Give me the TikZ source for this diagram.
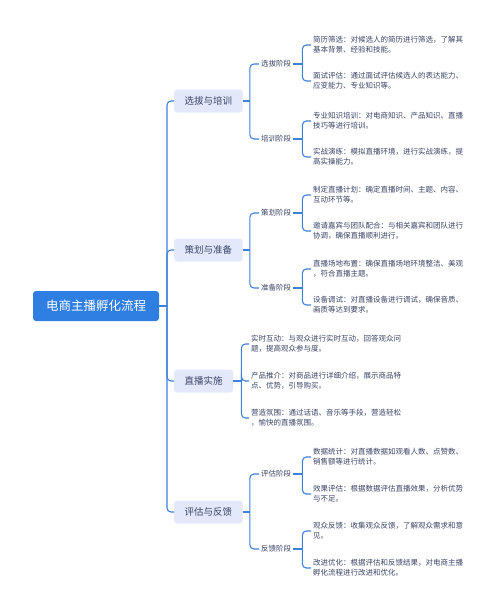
\documentclass[tikz,border=0pt]{standalone}
\usepackage{fontspec}
\setmainfont{Noto Sans CJK SC}
\definecolor{rootblue}{HTML}{2F7FE3}
\definecolor{topicfill}{HTML}{E3E9FB}
\definecolor{linkblue}{HTML}{3F80DA}
\definecolor{textdark}{HTML}{3A4466}

\begin{document}
\begin{tikzpicture}[x=1pt, y=-1pt,
	root/.style={fill=rootblue, text=white, rounded corners=3pt, font=\fontsize{12.5}{14}\selectfont, minimum height=30pt, inner xsep=13pt},
	topic/.style={fill=topicfill, text=textdark, rounded corners=3pt, font=\fontsize{9.5}{11}\selectfont, minimum height=23pt, inner xsep=10.5pt, anchor=west},
	stage/.style={text=textdark, font=\fontsize{7.5}{9}\selectfont, inner sep=2pt, anchor=west},
	leaf/.style={text=textdark, font=\fontsize{7.5}{10}\selectfont, align=left, inner sep=2pt, anchor=west},
	link/.style={draw=linkblue, line width=1.1pt, rounded corners=4pt}]
				\useasboundingbox (0,0) rectangle (500,613);
				
				% Root and main topics
				\node[root] (root) at (96,306) {电商主播孵化流程};
				\node[topic] (select) at (174,101) {选拔与培训};
				\node[topic] (plan) at (174,250) {策划与准备};
				\node[topic] (live) at (174,381) {直播实施};
				\node[topic] (review) at (174,512) {评估与反馈};
				
				% Stages
				\node[stage] (pick) at (259,64) {选拔阶段};
				\node[stage] (train) at (259,139) {培训阶段};
				\node[stage] (scheme) at (259,213) {策划阶段};
				\node[stage] (prepare) at (259,288) {准备阶段};
				\node[stage] (assess) at (259,474) {评估阶段};
				\node[stage] (feedback) at (259,549) {反馈阶段};
				
				% Details
				\node[leaf] (cv) at (311,45) {简历筛选：对候选人的简历进行筛选，了解其\\基本背景、经验和技能。};
				\node[leaf] (interview) at (311,81) {面试评估：通过面试评估候选人的表达能力、\\应变能力、专业知识等。};
				\node[leaf] (knowledge) at (311,121) {专业知识培训：对电商知识、产品知识、直播\\技巧等进行培训。};
				\node[leaf] (drill) at (311,157) {实战演练：模拟直播环境，进行实战演练，提\\高实操能力。};
				\node[leaf] (schedule) at (311,195) {制定直播计划：确定直播时间、主题、内容、\\互动环节等。};
				\node[leaf] (guests) at (311,231) {邀请嘉宾与团队配合：与相关嘉宾和团队进行\\协调，确保直播顺利进行。};
				\node[leaf] (venue) at (311,269) {直播场地布置：确保直播场地环境整洁、美观\\，符合直播主题。};
				\node[leaf] (device) at (311,305) {设备调试：对直播设备进行调试，确保音质、\\画质等达到要求。};
				\node[leaf] (interact) at (249,344) {实时互动：与观众进行实时互动，回答观众问\\题，提高观众参与度。};
				\node[leaf] (promote) at (249,381) {产品推介：对商品进行详细介绍，展示商品特\\点、优势，引导购买。};
				\node[leaf] (mood) at (249,418) {营造氛围：通过话语、音乐等手段，营造轻松\\，愉快的直播氛围。};
				\node[leaf] (stats) at (311,457) {数据统计：对直播数据如观看人数、点赞数、\\销售额等进行统计。};
				\node[leaf] (effect) at (311,494) {效果评估：根据数据评估直播效果，分析优势\\与不足。};
				\node[leaf] (audience) at (311,531) {观众反馈：收集观众反馈，了解观众需求和意\\见。};
				\node[leaf] (improve) at (311,568) {改进优化：根据评估和反馈结果，对电商主播\\孵化流程进行改进和优化。};
				
				% Trunk
				\draw[link] (root.east) -- (167,306) coordinate (t0);
				\draw[link] (t0) |- (select.west);
				\draw[link] (t0) |- (plan.west);
				\draw[link] (t0) |- (live.west);
				\draw[link] (t0) |- (review.west);
				
				% Topic brackets
				\draw[link] (select.east) -- ++(7,0) coordinate (t1);
				\draw[link] (t1) |- (pick.west);
				\draw[link] (t1) |- (train.west);
				\draw[link] (plan.east) -- ++(7,0) coordinate (t2);
				\draw[link] (t2) |- (scheme.west);
				\draw[link] (t2) |- (prepare.west);
				\draw[link] (live.east) -- ++(8,0) coordinate (t3);
				\draw[link] (t3) |- (interact.west);
				\draw[link] (t3) |- (promote.west);
				\draw[link] (t3) |- (mood.west);
				\draw[link] (review.east) -- ++(7,0) coordinate (t4);
				\draw[link] (t4) |- (assess.west);
				\draw[link] (t4) |- (feedback.west);
				
				% Stage brackets
				\draw[link] (pick.east) -- ++(9,0) coordinate (s1);
				\draw[link] (s1) |- (cv.west);
				\draw[link] (s1) |- (interview.west);
				\draw[link] (train.east) -- ++(9,0) coordinate (s2);
				\draw[link] (s2) |- (knowledge.west);
				\draw[link] (s2) |- (drill.west);
				\draw[link] (scheme.east) -- ++(9,0) coordinate (s3);
				\draw[link] (s3) |- (schedule.west);
				\draw[link] (s3) |- (guests.west);
				\draw[link] (prepare.east) -- ++(9,0) coordinate (s4);
				\draw[link] (s4) |- (venue.west);
				\draw[link] (s4) |- (device.west);
				\draw[link] (assess.east) -- ++(9,0) coordinate (s5);
				\draw[link] (s5) |- (stats.west);
				\draw[link] (s5) |- (effect.west);
				\draw[link] (feedback.east) -- ++(9,0) coordinate (s6);
				\draw[link] (s6) |- (audience.west);
				\draw[link] (s6) |- (improve.west);
			\end{tikzpicture}
\end{document}
